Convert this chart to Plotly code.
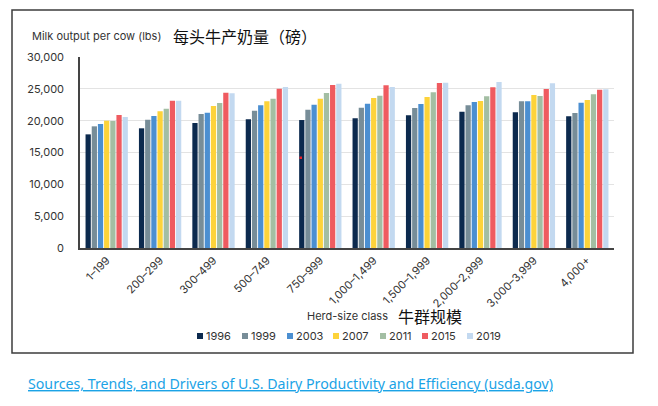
import plotly.graph_objects as go

categories = ["1–199", "200–299", "300–499", "500–749", "750–999", "1,000–1,499",
              "1,500–1,999", "2,000–2,999", "3,000–3,999", "4,000+"]
years = ["1996", "1999", "2003", "2007", "2011", "2015", "2019"]
colors = ["#0c2a4e", "#778d98", "#4b8fd1", "#fdd33a", "#a3bea3", "#ef5b60", "#c3d9f0"]

v1996 = [17850, 18800, 19630, 20210, 20100, 20370, 20840, 21410, 21310, 20680]
v1999 = [19110, 20160, 21050, 21570, 21730, 22040, 21990, 22410, 23040, 21200]
v2003 = [19480, 20730, 21260, 22410, 22510, 22670, 22620, 22930, 23040, 22830]
v2007 = [20000, 21470, 22300, 23040, 23460, 23560, 23720, 23090, 24030, 23250]
v2011 = [19950, 21890, 22780, 23460, 24350, 23930, 24450, 23820, 23870, 24140]
v2015 = [20890, 23140, 24400, 25030, 25600, 25550, 25920, 25240, 24970, 24870]
v2019 = [20580, 23140, 24290, 25290, 25810, 25290, 25970, 26070, 25860, 24920]
series = [v1996, v1999, v2003, v2007, v2011, v2015, v2019]

y_ticks = [0, 5000, 10000, 15000, 20000, 25000, 30000]

# plot area in pixels
L, R, T, B = 80, 614, 57, 248
W, H = 658, 406


def px(x):
    return (x - L) / (R - L)


def py(y):
    return (B - y) / (B - T)


fig = go.Figure()
for yr, col, vals in zip(years, colors, series):
    fig.add_trace(go.Bar(x=categories, y=vals, name=yr, marker_color=col,
                         marker_line_width=0, showlegend=False))

shapes = []
# outer border
shapes.append(dict(type="rect", xref="paper", yref="paper",
                   x0=px(12), x1=px(633), y0=py(353), y1=py(10),
                   line=dict(color="#3c3c3c", width=1.5), fillcolor="rgba(0,0,0,0)",
                   layer="below"))
# small red dot artifact
shapes.append(dict(type="rect", xref="paper", yref="paper",
                   x0=px(299.5), x1=px(302), y0=py(159), y1=py(156.5),
                   line=dict(width=0), fillcolor="#e8202a"))

annotations = [
    dict(text="Milk output per cow (lbs)", x=px(30), y=py(36), xref="paper", yref="paper",
         xanchor="left", yanchor="middle", showarrow=False,
         font=dict(family="Inter, Liberation Sans", size=11, color="#333333")),
    dict(text="每头牛产奶量（磅）", x=px(171), y=py(36), xref="paper", yref="paper",
         xanchor="left", yanchor="middle", showarrow=False,
         font=dict(family="Noto Sans CJK SC", size=16, color="#111111")),
    dict(text="Herd-size class", x=px(390), y=py(316), xref="paper", yref="paper",
         xanchor="right", yanchor="middle", showarrow=False,
         font=dict(family="Inter, Liberation Sans", size=11, color="#333333")),
    dict(text="牛群规模", x=px(396), y=py(316), xref="paper", yref="paper",
         xanchor="left", yanchor="middle", showarrow=False,
         font=dict(family="Noto Sans CJK SC", size=16, color="#111111")),
    dict(text="<u>Sources, Trends, and Drivers of U.S. Dairy Productivity and Efficiency (usda.gov)</u>",
         x=px(26), y=py(383), xref="paper", yref="paper",
         xanchor="left", yanchor="middle", showarrow=False,
         font=dict(family="Noto Sans", size=14.2, color="#1ba3e6")),
]

# manual legend
leg_x = [197, 242, 287, 333, 380, 422, 467]
for lx, yr, col in zip(leg_x, years, colors):
    shapes.append(dict(type="rect", xref="paper", yref="paper",
                       x0=px(lx), x1=px(lx + 6), y0=py(339), y1=py(333),
                       line=dict(width=0), fillcolor=col))
    annotations.append(dict(text=yr, x=px(lx + 7), y=py(336), xref="paper", yref="paper",
                            xanchor="left", yanchor="middle", showarrow=False,
                            font=dict(family="Inter, Liberation Sans", size=11, color="#333333")))

fig.update_layout(
    width=W, height=H,
    margin=dict(l=L, r=W - R, t=T, b=H - B),
    paper_bgcolor="white", plot_bgcolor="white",
    barmode="group", bargap=0.19, bargroupgap=0.15,
    shapes=shapes, annotations=annotations,
    showlegend=False,
    xaxis=dict(type="category", tickangle=-45, showgrid=False, showline=True,
               linecolor="#444444", linewidth=1.5, ticks="",
               tickfont=dict(family="Inter, Liberation Sans", size=11, color="#333333")),
    yaxis=dict(range=[0, 30000], tickvals=y_ticks, ticktext=[f"{v:,}" for v in y_ticks],
               showgrid=True, gridcolor="#e3e3e3", gridwidth=1, zeroline=False,
               showline=True, linecolor="#444444", linewidth=1.5, ticks="",
               ticklabelstandoff=12,
               tickfont=dict(family="Inter, Liberation Sans", size=11, color="#333333")),
)

fig.write_html("out.html")
